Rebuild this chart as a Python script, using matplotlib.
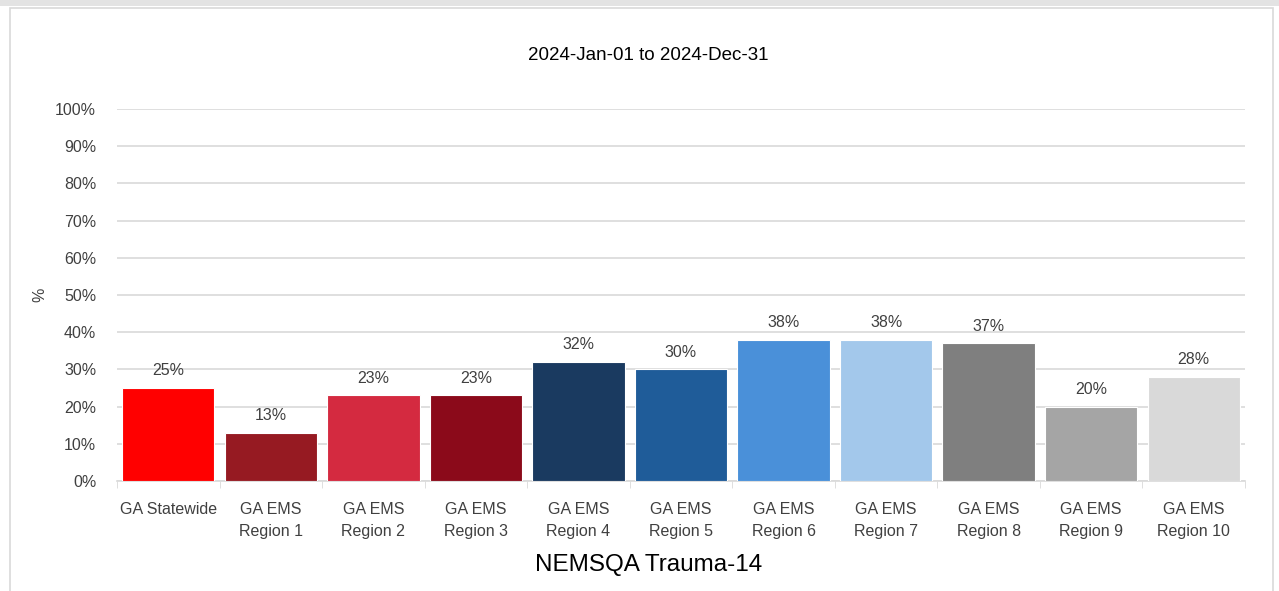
import matplotlib
matplotlib.use("Agg")
from matplotlib import pyplot as plt
from matplotlib.patches import Rectangle

categories = ["GA Statewide", "GA EMS\nRegion 1", "GA EMS\nRegion 2", "GA EMS\nRegion 3",
              "GA EMS\nRegion 4", "GA EMS\nRegion 5", "GA EMS\nRegion 6", "GA EMS\nRegion 7",
              "GA EMS\nRegion 8", "GA EMS\nRegion 9", "GA EMS\nRegion 10"]
values = [25, 13, 23, 23, 32, 30, 38, 38, 37, 20, 28]
colors = ["#FF0000", "#961A22", "#D42A40", "#8B0A1A", "#1A3A60", "#1F5C99",
          "#4A90D9", "#A3C8EB", "#7F7F7F", "#A5A5A5", "#D9D9D9"]
yticks = [0, 10, 20, 30, 40, 50, 60, 70, 80, 90, 100]

plt.rcParams['font.family'] = ['Liberation Sans', 'DejaVu Sans']

fig = plt.figure(figsize=(12.79, 5.91), dpi=100)
ax = fig.add_axes([117/1279, 1 - 481/591, (1245-117)/1279, (481-109)/591])

# outer frame like the exported chart
fig.patches.append(Rectangle((10/1279, -0.01), (1273-10)/1279, 1 - 8/591 + 0.01,
                             transform=fig.transFigure, fill=False,
                             edgecolor="#D9D9D9", linewidth=1.2))
fig.patches.append(Rectangle((0, 1 - 6/591), 1, 6/591, transform=fig.transFigure,
                             facecolor="#E3E3E3", edgecolor="none"))

x = range(len(categories))
ax.bar(x, values, width=0.9, color=colors, edgecolor="white", linewidth=0.8, zorder=3)
for i, v in enumerate(values):
    ax.text(i, v + 2.6, "{}%".format(v), ha="center", va="bottom", fontsize=11.5, color="#404040")

ax.set_xlim(-0.5, len(categories) - 0.5)
ax.set_ylim(0, 100)
ax.set_yticks(yticks)
ax.set_yticklabels(["{}%".format(t) for t in yticks], fontsize=11.5, color="#404040")
ax.set_xticks(list(x))
ax.set_xticklabels(categories, fontsize=11.5, color="#404040", linespacing=1.6)
ax.tick_params(axis="y", length=0, pad=15)
ax.tick_params(axis="x", length=0, pad=15)
ax.set_xticks([i + 0.5 for i in range(-1, len(categories))], minor=True)
ax.tick_params(axis="x", which="minor", length=5, color="#D9D9D9")
ax.grid(axis="y", color="#D9D9D9", linewidth=1.2, zorder=0)
for s in ["top", "right", "left"]:
    ax.spines[s].set_visible(False)
ax.spines["bottom"].set_color("#D9D9D9")
ax.spines["bottom"].set_linewidth(1.2)

fig.text(40/1279, 1 - 295/591, "%", rotation=90, ha="center", va="center", fontsize=11.5, color="#404040")
fig.text(0.507, 1 - 55/591, "2024-Jan-01 to 2024-Dec-31", ha="center", va="center",
         fontsize=13.5, color="#000000")
fig.text(0.507, 1 - 565/591, "NEMSQA Trauma-14", ha="center", va="center",
         fontsize=17.5, color="#000000")

plt.savefig("out.png", dpi=100)
